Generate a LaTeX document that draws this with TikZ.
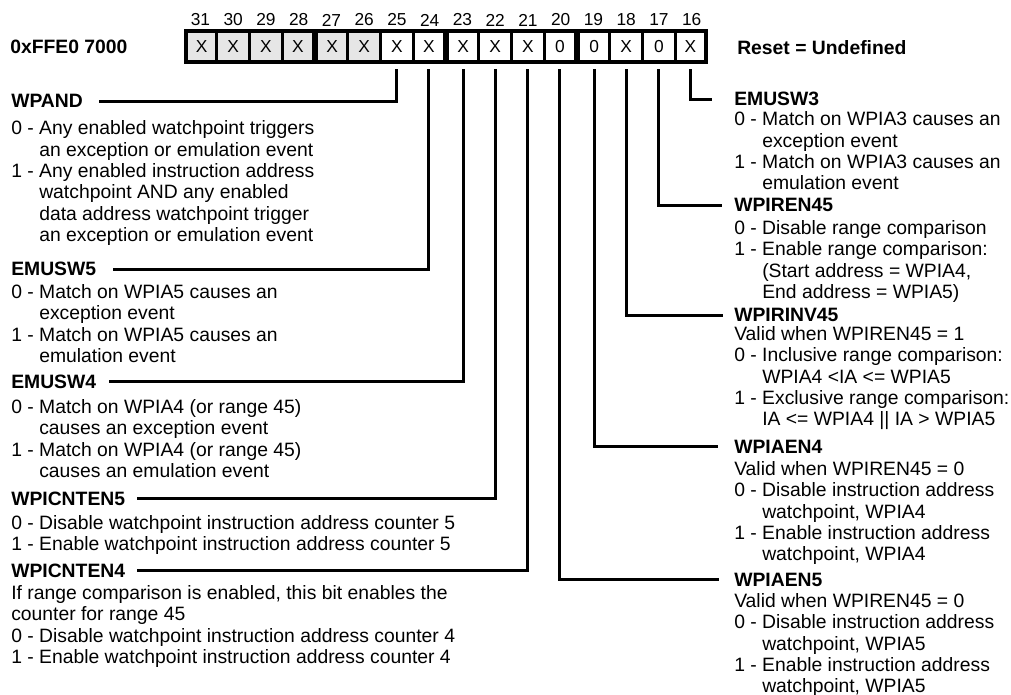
\documentclass[tikz,border=0pt]{standalone}
\usepackage{fontspec}
\setmainfont{Liberation Sans}
\definecolor{cellgray}{RGB}{230,230,230}
\newcommand\bodyfont{\fontsize{14.5}{16}\selectfont}
\begin{document}
\begin{tikzpicture}[x=0.75pt,y=-0.75pt,
  t/.style={anchor=base west,inner sep=0pt,font=\bodyfont},
  h/.style={anchor=base west,inner sep=0pt,font=\bodyfont\bfseries},
  conn/.style={line width=2.25pt},
  bitnum/.style={font=\fontsize{13}{14}\selectfont,inner sep=0pt}]
\useasboundingbox (0,0) rectangle (1011,695);
% register
\fill[black] (184,29) rectangle (708,64);
\foreach \n in {31,...,16}{
  \pgfmathsetmacro\cellxl{184+32.75*(31-\n)}
  \pgfmathsetmacro\insl{(\n==31)?4:((\n==27||\n==23||\n==19)?3:1.5)}
  \pgfmathsetmacro\insr{(\n==16)?4:((\n==28||\n==24||\n==20)?3:1.5)}
  \pgfmathsetmacro\cellw{(32.75-\insl-\insr)*0.75}
  \pgfmathsetmacro\cellx{\cellxl+\insl+(32.75-\insl-\insr)/2}
  \ifnum\n>25 \def\fc{cellgray}\else\def\fc{white}\fi
  \def\vv{X}
  \ifnum\n=20 \def\vv{0}\fi
  \ifnum\n=19 \def\vv{0}\fi
  \ifnum\n=17 \def\vv{0}\fi
  \node[fill=\fc,minimum width=\cellw pt,minimum height=20.25pt,inner sep=0pt,
        font=\fontsize{13}{14}\selectfont] (b\n) at (\cellx,46.5) {\vv};
  \node[bitnum] (n\n) at (\cellxl+16.4,20) {\n};
}
\node[h] (addr) at (10,54) {0xFFE0 7000};
\node[h] (reset) at (737,55) {Reset = Undefined};

% left column
\node[h] (wpand) at (11,108) {WPAND};
\node[t] (wpa1) at (11,135) {0 - Any enabled watchpoint triggers};
\node[t] (wpa2) at (39,156.3) {an exception or emulation event};
\node[t] (wpa3) at (11,177.6) {1 - Any enabled instruction address};
\node[t] (wpa4) at (39,198.9) {watchpoint AND any enabled};
\node[t] (wpa5) at (39,220.2) {data address watchpoint trigger};
\node[t] (wpa6) at (39,241.5) {an exception or emulation event};

\node[h] (emusw5) at (11,276) {EMUSW5};
\node[t] (e5a) at (11,298.5) {0 - Match on WPIA5 causes an};
\node[t] (e5b) at (39,319.8) {exception event};
\node[t] (e5c) at (11,341.1) {1 - Match on WPIA5 causes an};
\node[t] (e5d) at (39,362.4) {emulation event};

\node[h] (emusw4) at (11,388) {EMUSW4};
\node[t] (e4a) at (11,413.5) {0 - Match on WPIA4 (or range 45)};
\node[t] (e4b) at (39,434.8) {causes an exception event};
\node[t] (e4c) at (11,456.1) {1 - Match on WPIA4 (or range 45)};
\node[t] (e4d) at (39,477.4) {causes an emulation event};

\node[h] (cnt5) at (11,505) {WPICNTEN5};
\node[t] (c5a) at (11,529.5) {0 - Disable watchpoint instruction address counter 5};
\node[t] (c5b) at (11,550.5) {1 - Enable watchpoint instruction address counter 5};

\node[h] (cnt4) at (11,577) {WPICNTEN4};
\node[t] (c4a) at (11,599.5) {If range comparison is enabled, this bit enables the};
\node[t] (c4b) at (11,620.8) {counter for range 45};
\node[t] (c4c) at (11,642.1) {0 - Disable watchpoint instruction address counter 4};
\node[t] (c4d) at (11,663.4) {1 - Enable watchpoint instruction address counter 4};

% right column
\node[h] (emusw3) at (734,106) {EMUSW3};
\node[t] (e3a) at (734,126) {0 - Match on WPIA3 causes an};
\node[t] (e3b) at (762,147.3) {exception event};
\node[t] (e3c) at (734,168.6) {1 - Match on WPIA3 causes an};
\node[t] (e3d) at (762,189.9) {emulation event};

\node[h] (wpiren) at (734,212) {WPIREN45};
\node[t] (ra) at (734,234.5) {0 - Disable range comparison};
\node[t] (rb) at (734,255.8) {1 - Enable range comparison:};
\node[t] (rc) at (762,277.1) {(Start address = WPIA4,};
\node[t] (rd) at (762,298.4) {End address = WPIA5)};

\node[h] (wpirinv) at (734,322) {WPIRINV45};
\node[t] (ia) at (734,340.5) {Valid when WPIREN45 = 1};
\node[t] (ib) at (734,361.8) {0 - Inclusive range comparison:};
\node[t] (ic) at (762,383.1) {WPIA4 <IA <= WPIA5};
\node[t] (id) at (734,404.4) {1 - Exclusive range comparison:};
\node[t] (ie) at (762,425.7) {IA <= WPIA4 || IA > WPIA5};

\node[h] (aen4) at (734,453) {WPIAEN4};
\node[t] (a4a) at (734,475.5) {Valid when WPIREN45 = 0};
\node[t] (a4b) at (734,496.8) {0 - Disable instruction address};
\node[t] (a4c) at (762,518.1) {watchpoint, WPIA4};
\node[t] (a4d) at (734,539.4) {1 - Enable instruction address};
\node[t] (a4e) at (762,560.7) {watchpoint, WPIA4};

\node[h] (aen5) at (734,586) {WPIAEN5};
\node[t] (a5a) at (734,607.5) {Valid when WPIREN45 = 0};
\node[t] (a5b) at (734,628.8) {0 - Disable instruction address};
\node[t] (a5c) at (762,650.1) {watchpoint, WPIA5};
\node[t] (a5d) at (734,671.4) {1 - Enable instruction address};
\node[t] (a5e) at (762,692.7) {watchpoint, WPIA5};

% connectors
\draw[conn] ([yshift=-6.75pt]b25.south) |- ([xshift=12pt]wpand.east);
\draw[conn] ([yshift=-6.75pt]b24.south) |- ([xshift=12.75pt]emusw5.east);
\draw[conn] ([yshift=-6.75pt]b23.south) |- ([xshift=9.75pt]emusw4.east);
\draw[conn] ([yshift=-6.75pt]b22.south) |- ([xshift=9pt]cnt5.east);
\draw[conn] ([yshift=-6.75pt]b21.south) |- ([xshift=9pt]cnt4.east);
\draw[conn] ([yshift=-6.75pt]b20.south) |- ([xshift=-11.25pt]aen5.west);
\draw[conn] ([yshift=-6.75pt]b19.south) |- ([xshift=-12pt]aen4.west);
\draw[conn] ([yshift=-6.75pt]b18.south) |- ([xshift=-8.25pt]wpirinv.west);
\draw[conn] ([yshift=-6.75pt]b17.south) |- ([xshift=-9pt]wpiren.west);
\draw[conn] ([yshift=-6.75pt]b16.south) |- ([xshift=-16.5pt]emusw3.west);
\end{tikzpicture}
\end{document}
